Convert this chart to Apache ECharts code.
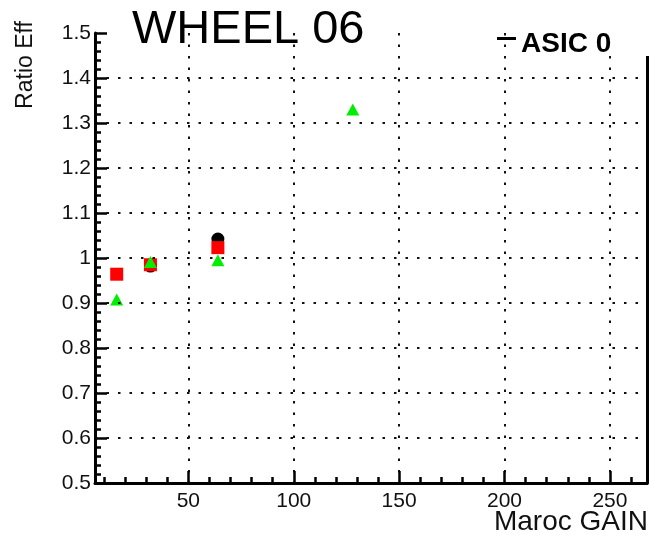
<!DOCTYPE html>
<html>
<head>
<meta charset="utf-8">
<script src="https://cdn.jsdelivr.net/npm/echarts@6/dist/echarts.min.js"></script>
<style>html,body{margin:0;padding:0;background:#fff;}#c{width:651px;height:542px;}</style>
</head>
<body>
<div id="c"></div>
<script>
// ---- data ----
const xMajorTicks = [50, 100, 150, 200, 250];
const xMinorTicks = [10, 20, 30, 40, 60, 70, 80, 90, 110, 120, 130, 140, 160, 170, 180, 190, 210, 220, 230, 240, 260];
const blackGain = [32, 64];
const blackRatio = [0.982, 1.042];
const redGain = [16, 32, 64];
const redRatio = [0.964, 0.985, 1.023];
const greenGain = [16, 32, 64, 128];
const greenRatio = [0.908, 0.991, 0.995, 1.330];
const xRange = [5.7, 267.6];
const yRange = [0.5, 1.5];

function pairs(xs, ys) { return xs.map((x, i) => [x, ys[i]]); }

const FONT = '"Liberation Sans", Arial, Helvetica, sans-serif';
const dotted = { color: '#111', width: 2, type: [2.5, 9] };
const tickStyle = { color: '#000', width: 2.5 };

const chart = echarts.init(document.getElementById('c'), null, { renderer: 'canvas' });
chart.setOption({
  animation: false,
  backgroundColor: '#fff',
  grid: { left: 95, right: 4, top: 33, bottom: 59, containLabel: false },
  xAxis: [{
    type: 'value', min: xRange[0], max: xRange[1], position: 'bottom', z: 5,
    axisLine: { show: true, onZero: false, lineStyle: { color: '#000', width: 3 } },
    axisTick: { show: true, inside: true, length: 12, customValues: xMajorTicks, lineStyle: tickStyle },
    axisLabel: { show: true, customValues: xMajorTicks, margin: 8, color: '#111', fontSize: 21, fontFamily: FONT },
    splitLine: { show: true, lineStyle: dotted }
  }, {
    type: 'value', min: xRange[0], max: xRange[1], position: 'bottom', z: 5,
    axisLine: { show: false },
    axisTick: { show: true, inside: true, length: 6, customValues: xMinorTicks, lineStyle: tickStyle },
    axisLabel: { show: false },
    splitLine: { show: false }
  }],
  yAxis: [{
    type: 'value', min: yRange[0], max: yRange[1], interval: 0.1, position: 'left', z: 5,
    axisLine: { show: true, onZero: false, lineStyle: { color: '#000', width: 3 } },
    axisTick: { show: true, inside: true, length: 12, lineStyle: tickStyle },
    minorTick: { show: true, splitNumber: 5, length: 6, lineStyle: tickStyle },
    axisLabel: { show: true, margin: 4, color: '#111', fontSize: 21, fontFamily: FONT },
    splitLine: { show: true, showMinLine: false, showMaxLine: false, lineStyle: dotted }
  }, {
    type: 'value', min: yRange[0], max: yRange[1], position: 'right', z: 1,
    axisLine: { show: true, onZero: false, lineStyle: { color: '#000', width: 3 } },
    axisTick: { show: false }, axisLabel: { show: false }, splitLine: { show: false }
  }],
  legend: {
    left: 497, top: 30.5, itemWidth: 19, itemHeight: 15, padding: 0,
    data: [{ name: 'ASIC 0', icon: 'path://M0,0h19v3h-19z M0,15h0.01v0.01h-0.01z' }],
    textStyle: { fontSize: 28, fontWeight: 'bold', color: '#000', fontFamily: FONT },
    z: 20
  },
  graphic: [
    { type: 'rect', shape: { x: 512, y: 0, width: 139, height: 56 }, style: { fill: '#fff' }, z: 15, silent: true },
    { type: 'text', x: 132, y: 30, z: 20, style: { text: 'WHEEL 06', fontSize: 47, fontFamily: FONT, fill: '#000', align: 'left', verticalAlign: 'middle' } },
    { type: 'text', x: 26, y: 65, rotation: Math.PI / 2, z: 20, style: { text: 'Ratio Eff', fontSize: 23, fontFamily: FONT, fill: '#111', align: 'center', verticalAlign: 'middle' } },
    { type: 'text', x: 648, y: 522, z: 20, style: { text: 'Maroc GAIN', fontSize: 28, fontFamily: FONT, fill: '#111', align: 'right', verticalAlign: 'middle' } }
  ],
  series: [
    { name: 'ASIC 0', type: 'scatter', data: pairs(blackGain, blackRatio), symbol: 'circle', symbolSize: 13, itemStyle: { color: '#000', opacity: 1 }, z: 2 },
    { name: 'ASIC 1', type: 'scatter', data: pairs(redGain, redRatio), symbol: 'rect', symbolSize: 13, itemStyle: { color: '#ff0000', opacity: 1 }, z: 3 },
    { name: 'ASIC 2', type: 'scatter', data: pairs(greenGain, greenRatio), symbol: 'triangle', symbolSize: [13, 12], itemStyle: { color: '#00ee00', opacity: 1 }, z: 4 }
  ]
});
</script>
</body>
</html>
